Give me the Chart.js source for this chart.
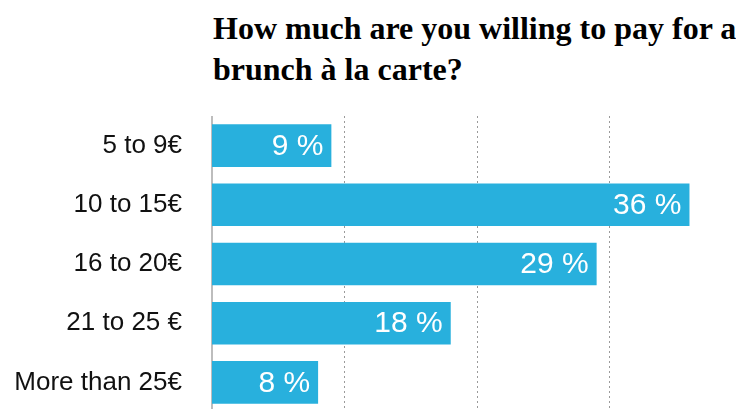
<!DOCTYPE html>
<html>
<head>
<meta charset="utf-8">
<script src="https://cdn.jsdelivr.net/npm/chart.js@4"></script>
<style>
  html, body { margin: 0; padding: 0; background: #fff; overflow: hidden; }
  #title {
    margin: 0;
    padding: 8px 0 0 213px;
    height: 108px;
    font: bold 32px "Liberation Serif", "Times New Roman", serif;
    line-height: 41px;
    color: #000;
    white-space: nowrap;
  }
  #wrap { position: relative; width: 736px; height: 296px; }
</style>
</head>
<body>
<h1 id="title"></h1>
<div id="wrap"><canvas id="brunchChart"></canvas></div>
<script>
const titleLines = ["How much are you willing to pay for a", "brunch à la carte?"]
const priceRanges = ["5 to 9€", "10 to 15€", "16 to 20€", "21 to 25 €", "More than 25€"]
const shares = [9, 36, 29, 18, 8]
const gridSteps = [10, 20, 30]

document.getElementById("title").innerHTML = titleLines.join("<br>")

// white "NN %" text inside the end of each bar
const valueLabels = {
    id: 'valueLabels',
    afterDatasetsDraw(chart) {
        const ctx = chart.ctx
        const meta = chart.getDatasetMeta(0)
        ctx.save()
        ctx.font = '30px "Liberation Sans", Arial, sans-serif'
        ctx.fillStyle = '#ffffff'
        ctx.textAlign = 'right'
        ctx.textBaseline = 'middle'
        meta.data.forEach(function(bar, i) {
            ctx.fillText(shares[i] + ' %', bar.x - 8, bar.y + 1)
        })
        ctx.restore()
    }
}

new Chart(document.getElementById('brunchChart'), {
    type: 'bar',
    data: {
        labels: priceRanges,
        datasets: [{
            data: shares,
            backgroundColor: '#28b0dd',
            borderWidth: 0,
            categoryPercentage: 1,
            barPercentage: 0.72
        }]
    },
    options: {
        indexAxis: 'y',
        responsive: true,
        maintainAspectRatio: false,
        animation: false,
        layout: { autoPadding: false, padding: { left: 0, right: 20, top: 0, bottom: 0 } },
        plugins: {
            legend: { display: false },
            tooltip: { enabled: false }
        },
        scales: {
            x: {
                min: 0,
                max: 38,
                afterBuildTicks: function(scale) {
                    scale.ticks = gridSteps.map(v => ({ value: v }))
                },
                afterFit: function(scale) { scale.height = 0 },
                ticks: { display: false },
                border: { display: false, dash: [2, 3] },
                grid: {
                    color: '#9a9a9a',
                    lineWidth: 1,
                    drawTicks: false
                }
            },
            y: {
                afterFit: function(scale) {
                    scale.width = 212
                    // no extra room above/below the first and last label
                    scale.paddingTop = 0
                    scale.paddingBottom = 0
                },
                ticks: {
                    color: '#111',
                    padding: 30,
                    font: { family: '"Liberation Sans", Arial, sans-serif', size: 26 }
                },
                border: { display: true, color: '#bdbdbd', width: 2 },
                grid: { display: false, drawTicks: false }
            }
        }
    },
    plugins: [valueLabels]
});
</script>
</body>
</html>
